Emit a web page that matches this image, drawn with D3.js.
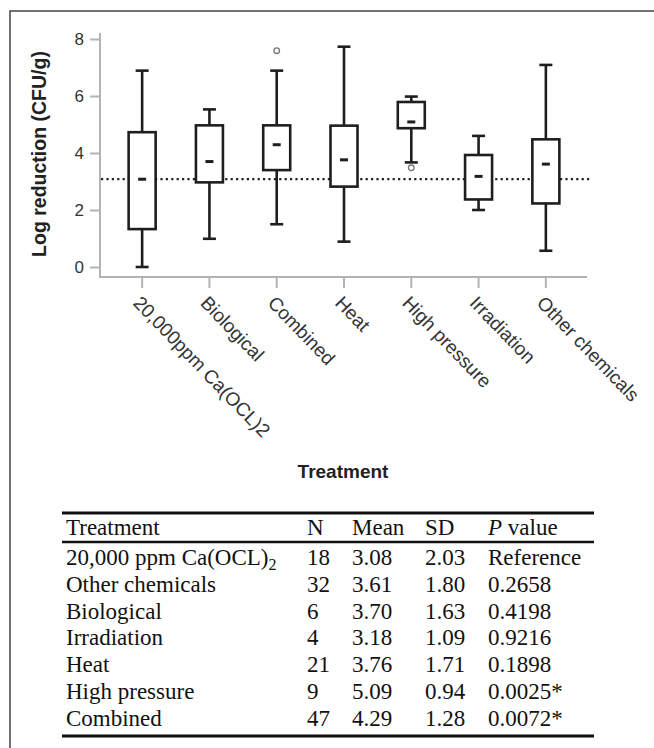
<!DOCTYPE html>
<html><head><meta charset="utf-8">
<script src="https://cdn.jsdelivr.net/npm/d3@7"></script>
<style>body{margin:0;background:#fff}svg{display:block}</style>
</head><body><svg id="c" width="654" height="748"></svg>
<script>
const categories = ["20,000ppm Ca(OCL)2","Biological","Combined","Heat","High pressure","Irradiation","Other chemicals"];
const whiskerLow  = [0.00, 0.99, 1.50, 0.89, 3.67, 2.00, 0.57];
const q1          = [1.33, 2.97, 3.40, 2.82, 4.87, 2.37, 2.23];
const centre      = [3.08, 3.70, 4.29, 3.76, 5.09, 3.18, 3.61];
const q3          = [4.73, 4.97, 4.97, 4.96, 5.79, 3.93, 4.48];
const whiskerHigh = [6.89, 5.53, 6.89, 7.73, 5.98, 4.60, 7.09];
const outliers    = [[], [], [7.59], [], [3.48], [], []];
const referenceLevel = 3.08;
const yTicks = [0, 2, 4, 6, 8];

const tableColumns = ["Treatment", "N", "Mean", "SD", "P value"];
const tableTreatment = ["20,000 ppm Ca(OCL)", "Other chemicals", "Biological", "Irradiation", "Heat", "High pressure", "Combined"];
const tableSubscript = ["2", "", "", "", "", "", ""];
const tableN = ["18", "32", "6", "4", "21", "9", "47"];
const tableMean = ["3.08", "3.61", "3.70", "3.18", "3.76", "5.09", "4.29"];
const tableSD = ["2.03", "1.80", "1.63", "1.09", "1.71", "0.94", "1.28"];
const tableP = ["Reference", "0.2658", "0.4198", "0.9216", "0.1898", "0.0025*", "0.0072*"];

const svg = d3.select("#c");
const sans = "Liberation Sans, Arial, sans-serif";
const serif = "Liberation Serif, Times New Roman, serif";

// frame
svg.append("path").attr("d", "M10,748V11H654").attr("fill", "none").attr("stroke", "#444").attr("stroke-width", 1.5);

const y = d3.scaleLinear().domain([0, 8]).range([267, 39]);
const x = d3.scaleBand().domain(categories).range([108.5, 579.5]);
const cx = d => x(d) + x.bandwidth() / 2;
const axisCol = "#b3b3b3";

// y axis
const ya = svg.append("g").attr("transform", "translate(100,0)")
  .call(d3.axisLeft(y).tickValues(yTicks).tickSize(10).tickPadding(6));
ya.select(".domain").remove();
ya.selectAll(".tick line").attr("stroke", axisCol).attr("stroke-width", 2);
ya.selectAll(".tick text").attr("font-family", sans).attr("font-size", 17).attr("fill", "#333");
svg.append("line").attr("x1", 100).attr("x2", 100).attr("y1", 33).attr("y2", 278)
  .attr("stroke", axisCol).attr("stroke-width", 2);

// x axis
const xa = svg.append("g").attr("transform", "translate(0,278)")
  .call(d3.axisBottom(x).tickSize(10));
xa.select(".domain").remove();
xa.selectAll(".tick line").attr("stroke", axisCol).attr("stroke-width", 2);
xa.selectAll(".tick text")
  .attr("font-family", sans).attr("font-size", 19).attr("fill", "#333")
  .attr("text-anchor", "start").attr("x", 0).attr("y", 0).attr("dy", 0)
  .attr("transform", "translate(-10,26) rotate(46)");
svg.append("line").attr("x1", 99).attr("x2", 587).attr("y1", 277).attr("y2", 277)
  .attr("stroke", axisCol).attr("stroke-width", 2);

// axis titles
svg.append("text").attr("transform", `translate(46,${(y(0) + y(8)) / 2 + 1}) rotate(-90)`)
  .attr("text-anchor", "middle").attr("font-family", sans).attr("font-weight", "bold")
  .attr("font-size", 19.5).attr("fill", "#222").text("Log reduction (CFU/g)");
svg.append("text").attr("x", 343).attr("y", 478)
  .attr("text-anchor", "middle").attr("font-family", sans).attr("font-weight", "bold")
  .attr("font-size", 19).attr("fill", "#222").text("Treatment");

// reference line
svg.append("line").attr("x1", 101).attr("x2", 592)
  .attr("y1", y(referenceLevel)).attr("y2", y(referenceLevel))
  .attr("stroke", "#222").attr("stroke-width", 2.2).attr("stroke-dasharray", "2.2,3.2");

// boxes
const boxW = 27, capW = 13, ink = "#1e1e1e";
const g = svg.append("g");
categories.forEach((c, i) => {
  const xc = cx(c);
  const gg = g.append("g").attr("stroke", ink).attr("stroke-width", 2.6).attr("fill", "none");
  gg.append("line").attr("x1", xc).attr("x2", xc).attr("y1", y(whiskerHigh[i])).attr("y2", y(q3[i]));
  gg.append("line").attr("x1", xc).attr("x2", xc).attr("y1", y(q1[i])).attr("y2", y(whiskerLow[i]));
  gg.append("line").attr("x1", xc - capW / 2).attr("x2", xc + capW / 2).attr("y1", y(whiskerHigh[i])).attr("y2", y(whiskerHigh[i]));
  gg.append("line").attr("x1", xc - capW / 2).attr("x2", xc + capW / 2).attr("y1", y(whiskerLow[i])).attr("y2", y(whiskerLow[i]));
  gg.append("rect").attr("x", xc - boxW / 2).attr("width", boxW)
    .attr("y", y(q3[i])).attr("height", y(q1[i]) - y(q3[i])).attr("fill", "#fff");
  gg.append("line").attr("x1", xc - 4).attr("x2", xc + 4).attr("y1", y(centre[i])).attr("y2", y(centre[i]))
    .attr("stroke-width", 3);
  outliers[i].forEach(v => {
    g.append("circle").attr("cx", xc).attr("cy", y(v)).attr("r", 2.8)
      .attr("fill", "#fff").attr("stroke", "#777").attr("stroke-width", 1.3);
  });
});

// table
const colX = [66, 307, 352, 425, 488];
const tLeft = 62, tRight = 594;
const t = svg.append("g").attr("font-family", serif).attr("font-size", 23).attr("fill", "#111");
t.append("line").attr("x1", tLeft).attr("x2", tRight).attr("y1", 513).attr("y2", 513).attr("stroke", "#111").attr("stroke-width", 3);
t.append("line").attr("x1", tLeft).attr("x2", tRight).attr("y1", 542).attr("y2", 542).attr("stroke", "#111").attr("stroke-width", 2.5);
t.append("line").attr("x1", tLeft).attr("x2", tRight).attr("y1", 736).attr("y2", 736).attr("stroke", "#111").attr("stroke-width", 3);
tableColumns.forEach((h, j) => {
  const tx = t.append("text").attr("x", colX[j]).attr("y", 535);
  if (h === "P value") {
    tx.append("tspan").attr("font-style", "italic").text("P");
    tx.append("tspan").text(" value");
  } else tx.text(h);
});
const rowY = i => 565 + i * 26.8;
tableTreatment.forEach((name, i) => {
  const tx = t.append("text").attr("x", colX[0]).attr("y", rowY(i)).text(name);
  if (tableSubscript[i]) tx.append("tspan").attr("font-size", 16).attr("dy", 5).text(tableSubscript[i]);
  t.append("text").attr("x", colX[1]).attr("y", rowY(i)).text(tableN[i]);
  t.append("text").attr("x", colX[2]).attr("y", rowY(i)).text(tableMean[i]);
  t.append("text").attr("x", colX[3]).attr("y", rowY(i)).text(tableSD[i]);
  t.append("text").attr("x", colX[4]).attr("y", rowY(i)).text(tableP[i]);
});
</script></body></html>
